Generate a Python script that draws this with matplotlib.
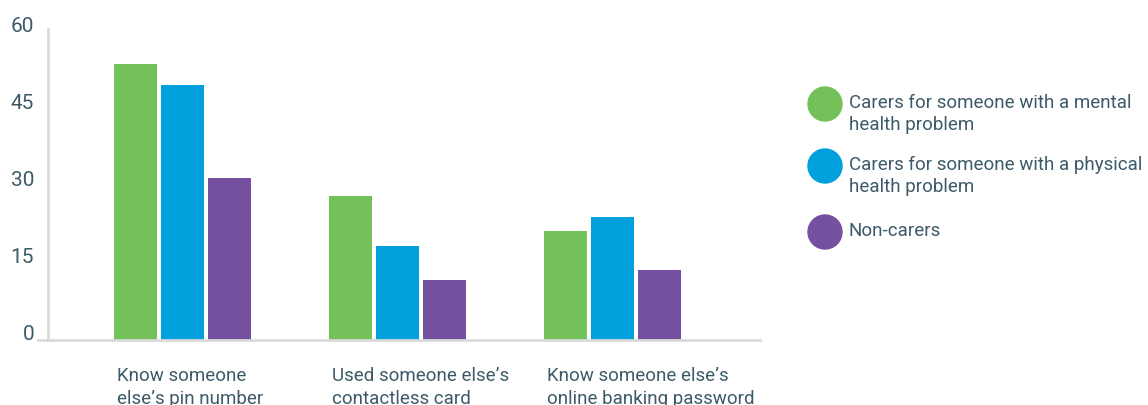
import matplotlib
matplotlib.use("Agg")
import matplotlib.pyplot as plt
import numpy as np
from matplotlib.patches import Ellipse

categories = ["Know someone\nelse\u2019s pin number",
              "Used someone else\u2019s\ncontactless card",
              "Know someone else\u2019s\nonline banking password"]
series_names = ["Carers for someone with a mental\nhealth problem",
                "Carers for someone with a physical\nhealth problem",
                "Non-carers"]
mental = [53.8, 28.1, 21.2]
physical = [49.7, 18.3, 24.0]
noncarers = [31.5, 11.7, 13.6]
yticks = [0, 15, 30, 45, 60]
colors = ["#74C15A", "#00A0DC", "#7650A0"]
text_color = "#3D5A68"
axis_color = "#DADADA"

plt.rcParams['font.family'] = ['Roboto', 'DejaVu Sans']

W, H = 1148, 405
fig = plt.figure(figsize=(W / 100, H / 100), dpi=100)

# axes in pixel coordinates
left_px, right_px, top_px, bottom_px = 38, 760, 29, 340
ax = fig.add_axes([left_px / W, 1 - bottom_px / H, (right_px - left_px) / W, (bottom_px - top_px) / H])

px_per_unit = 5.133
ax.set_ylim(0, (bottom_px - top_px) / px_per_unit)
cat_spacing = 215.0
center0 = 182.5
ax.set_xlim((left_px - center0) / cat_spacing, (right_px - center0) / cat_spacing)

x = np.arange(len(categories))
bw = 43 / cat_spacing
off = 47 / cat_spacing
for i, vals in enumerate([mental, physical, noncarers]):
    ax.bar(x + (i - 1) * off, vals, width=bw, color=colors[i], linewidth=0, zorder=2)

for s in ax.spines.values():
    s.set_visible(False)
ax.axhline(0, color=axis_color, lw=2, zorder=3, clip_on=False)
vx = (48 - center0) / cat_spacing
ax.plot([vx, vx], [0, ax.get_ylim()[1]], color=axis_color, lw=2, zorder=3, clip_on=False)

ax.set_xticks([])
ax.set_yticks([])
for t in yticks:
    ax.text((34 - center0) / cat_spacing, t - 4 / px_per_unit, str(t), ha="right", va="bottom",
            fontsize=15, color=text_color, fontweight="normal", clip_on=False)

for i, c in enumerate(categories):
    ax.text(i - 1 * off - bw / 2 + 3 / cat_spacing, -5.2, c, ha="left", va="top",
            fontsize=13.5, color=text_color, fontweight="normal", linespacing=1.4,
            clip_on=False)

# legend
ys = [104, 166, 232]
for i, (name, y) in enumerate(zip(series_names, ys)):
    fig.patches.append(Ellipse((825 / W, 1 - y / H), 34 / W, 34 / H,
                               transform=fig.transFigure, color=colors[i]))
    fig.text(849 / W, 1 - (y - 10) / H, name, ha="left", va="top", fontsize=13.5,
             color=text_color, fontweight="normal", linespacing=1.25)

fig.savefig("out.png", dpi=100)
